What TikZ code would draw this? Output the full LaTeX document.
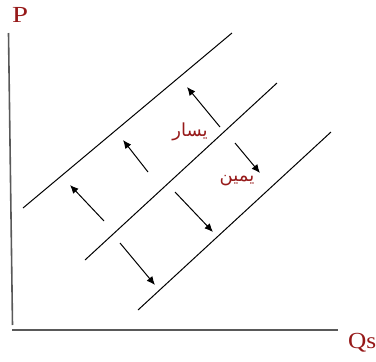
\documentclass[tikz,border=0pt]{standalone}
\usepackage{fontspec}
\setmainfont{Liberation Serif}
\newfontfamily\arabicfont[Script=Arabic]{DejaVu Sans}
\TeXXeTstate=1
\usetikzlibrary{arrows.meta}
\definecolor{labelred}{RGB}{150,25,25}

\begin{document}
\begin{tikzpicture}[x=1pt,y=-1pt,
    axis/.style={draw=black!65,line width=1.6pt},
    supply/.style={draw,line width=1pt},
    move/.style={-{Latex[length=3mm,width=2.6mm]},line width=1pt},
    lbl/.style={text=labelred,font=\fontsize{23}{25}\selectfont,inner sep=0pt,anchor=base west},
    side/.style={text=labelred,font=\arabicfont\fontsize{18}{20}\selectfont,inner sep=0pt}]
  \useasboundingbox (0,0) rectangle (376,362);
  % axes
  \coordinate (ytop) at (8.5,33);
  \coordinate (ybot) at (12.5,325);
  \coordinate (xleft) at (12,330);
  \coordinate (xright) at (338,330);
  \draw[axis] (ytop) -- (ybot);
  \draw[axis] (xleft) -- (xright);
  \node[lbl] (p) at (12,22) {\scalebox{1.25}[1]{P}};
  \node[lbl] (qs) at (348,348) {\scalebox{1.1}[1]{Qs}};
  % supply curves
  \coordinate (s1a) at (23,208);  \coordinate (s1b) at (232,33);
  \coordinate (s2a) at (85,260);  \coordinate (s2b) at (277,83);
  \coordinate (s3a) at (138,310); \coordinate (s3b) at (331,132);
  \draw[supply] (s1a) -- (s1b);
  \draw[supply] (s2a) -- (s2b);
  \draw[supply] (s3a) -- (s3b);
  % shifts to the left
  \coordinate (l1a) at (104,221); \coordinate (l1b) at (70,185);
  \coordinate (l2a) at (148,172); \coordinate (l2b) at (123,140);
  \coordinate (l3a) at (220,127); \coordinate (l3b) at (187,87);
  \draw[move] (l1a) -- (l1b);
  \draw[move] (l2a) -- (l2b);
  \draw[move] (l3a) -- (l3b);
  % shifts to the right
  \coordinate (r1a) at (235,143); \coordinate (r1b) at (260,173);
  \coordinate (r2a) at (175,192); \coordinate (r2b) at (213,232);
  \coordinate (r3a) at (120,243); \coordinate (r3b) at (155,285);
  \draw[move] (r1a) -- (r1b);
  \draw[move] (r2a) -- (r2b);
  \draw[move] (r3a) -- (r3b);
  \node[side] (left) at (190,132) {\beginR يسار\endR};
  \node[side] (right) at (237,181) {\beginR يمين\endR};
\end{tikzpicture}
\end{document}
